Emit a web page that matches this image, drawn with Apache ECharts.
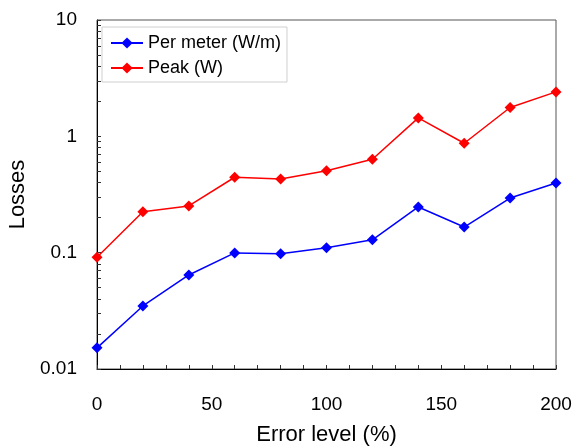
<!DOCTYPE html>
<html>
<head>
<meta charset="utf-8">
<script src="https://cdn.jsdelivr.net/npm/echarts@6/dist/echarts.min.js"></script>
<style>
  html, body { margin: 0; padding: 0; background: #fff; }
  #chart { width: 575px; height: 447px; }
</style>
</head>
<body>
<div id="chart"></div>
<script>
// Error level (%) on the x axis
const errorLevels = [0, 20, 40, 60, 80, 100, 120, 140, 160, 180, 200];
// Losses per meter (W/m)
const perMeter = [0.0152, 0.0348, 0.0643, 0.0995, 0.0977, 0.110, 0.129, 0.247, 0.166, 0.295, 0.397];
// Peak losses (W)
const peak = [0.0913, 0.225, 0.252, 0.445, 0.430, 0.507, 0.636, 1.44, 0.872, 1.77, 2.41];
// Decade labels of the log axis
const yTickLabels = [0.01, 0.1, 1, 10];
const xTickLabels = [0, 50, 100, 150, 200];

// minor tick positions 1..9 within every decade
const yTicks = [];
for (let d = 0; d < yTickLabels.length; d++) {
  const base = yTickLabels[d];
  if (d === yTickLabels.length - 1) { yTicks.push(base); break; }
  for (let k = 1; k <= 9; k++) yTicks.push(+(base * k).toPrecision(3));
}

const FONT = '"Liberation Sans", Arial, sans-serif';
const chart = echarts.init(document.getElementById('chart'), null, { renderer: 'canvas' });

chart.setOption({
  backgroundColor: '#ffffff',
  animation: false,
  grid: {
    left: 97, right: 19, top: 20, bottom: 78,
    outerBoundsMode: 'none',
    show: true, borderColor: '#555', borderWidth: 1, backgroundColor: 'transparent'
  },
  legend: {
    left: 102, top: 27,
    orient: 'vertical',
    padding: [7, 6, 5, 8],
    itemWidth: 32, itemHeight: 14, itemGap: 7,
    borderColor: '#cfcfcf', borderWidth: 1,
    textStyle: { fontFamily: FONT, fontSize: 18, color: '#000' },
    data: ['Per meter (W/m)', 'Peak (W)']
  },
  xAxis: {
    type: 'value', min: 0, max: 200, interval: 50,
    name: 'Error level (%)', nameLocation: 'middle', nameGap: 55,
    nameTextStyle: { fontFamily: FONT, fontSize: 22, color: '#000' },
    axisLine: { show: true, lineStyle: { color: '#000', width: 1 } },
    axisTick: { show: true, inside: true, length: 4, lineStyle: { color: '#333' } },
    minorTick: { show: true, splitNumber: 5, length: 4, lineStyle: { color: '#333' } },
    splitLine: { show: false },
    axisLabel: {
      fontFamily: FONT, fontSize: 19, color: '#000', margin: 26,
      customValues: xTickLabels
    }
  },
  yAxis: {
    type: 'log', logBase: 10, min: 0.01, max: 10,
    name: 'Losses', nameLocation: 'middle', nameGap: 66,
    nameTextStyle: { fontFamily: FONT, fontSize: 22, color: '#000' },
    axisLine: { show: true, lineStyle: { color: '#000', width: 1 } },
    axisTick: { show: true, inside: true, length: 4, lineStyle: { color: '#333' }, customValues: yTicks },
    splitLine: { show: false },
    axisLabel: {
      fontFamily: FONT, fontSize: 19, color: '#000', margin: 20,
      customValues: yTickLabels,
      formatter: v => String(+v.toPrecision(3))
    }
  },
  series: [
    {
      name: 'Per meter (W/m)', type: 'line',
      data: errorLevels.map((x, i) => [x, perMeter[i]]),
      symbol: 'diamond', symbolSize: 11,
      lineStyle: { color: '#0000ff', width: 1.5 },
      itemStyle: { color: '#0000ff' }
    },
    {
      name: 'Peak (W)', type: 'line',
      data: errorLevels.map((x, i) => [x, peak[i]]),
      symbol: 'diamond', symbolSize: 11,
      lineStyle: { color: '#ff0000', width: 1.5 },
      itemStyle: { color: '#ff0000' }
    }
  ]
});
</script>
</body>
</html>
